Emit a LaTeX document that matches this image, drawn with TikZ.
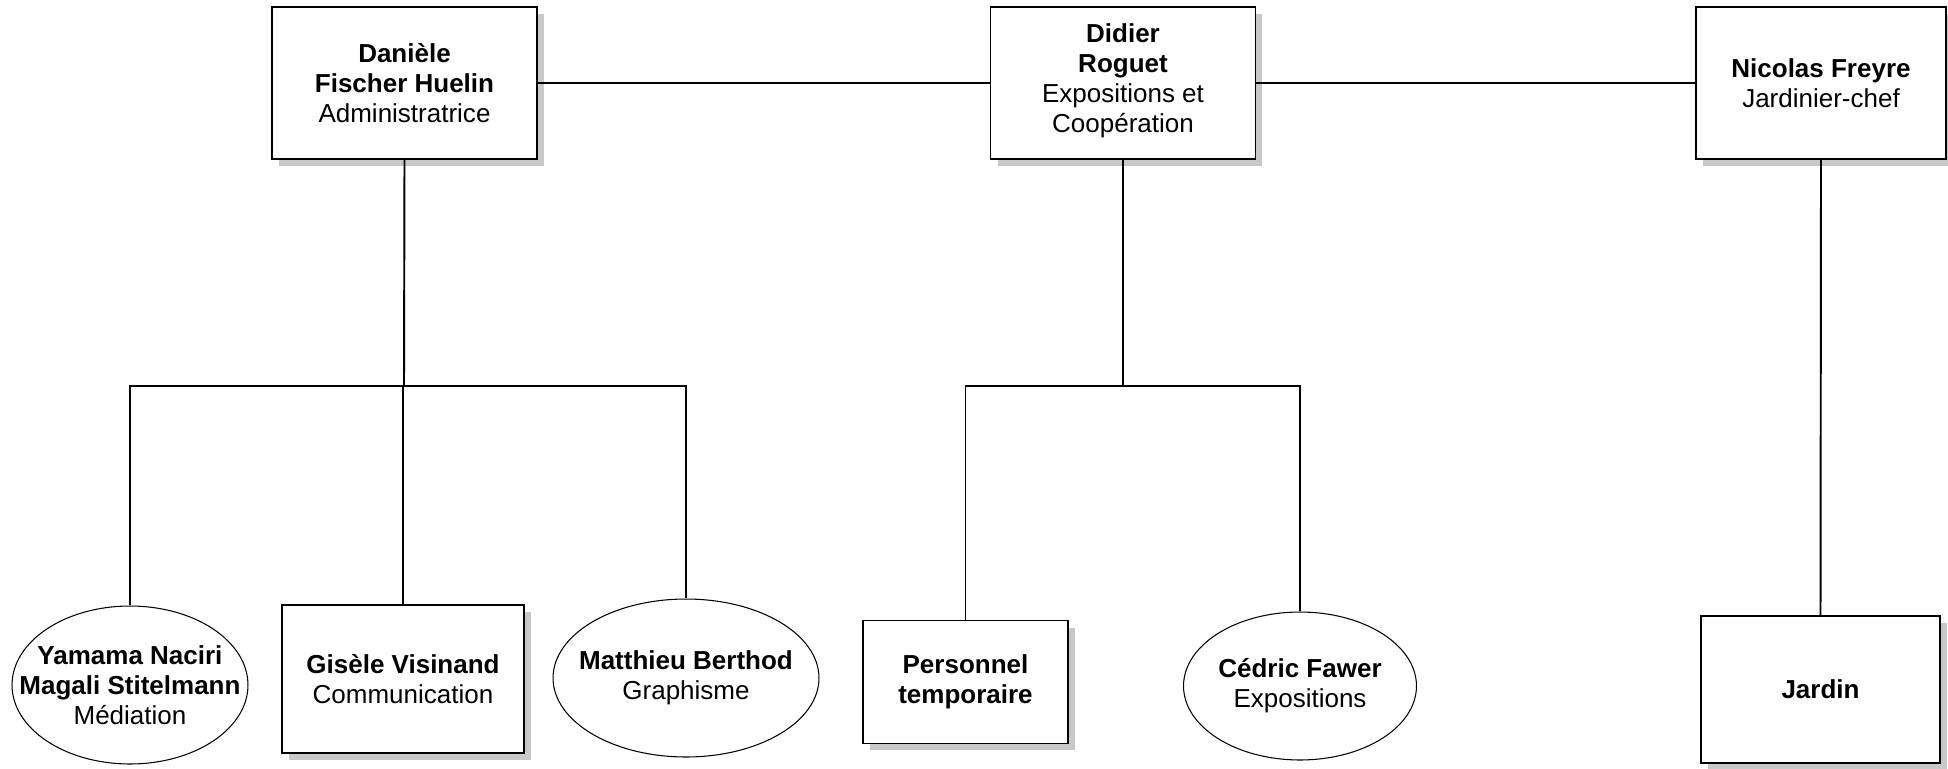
\documentclass[tikz,border=0pt]{standalone}
\usepackage{fontspec}
\setmainfont{Liberation Sans}
\usepackage{tikz}
\usetikzlibrary{shapes,positioning,shadows}
\definecolor{orgshadow}{RGB}{200,200,200}
\tikzstyle{link} = [line width=1.1pt, color=black]
\tikzstyle{person} = [rectangle, draw=black, fill=white, line width=0.9pt, align=center, inner sep=2pt,
  font=\fontsize{14.8}{17.1}\selectfont,
  drop shadow={shadow xshift=0.14cm, shadow yshift=-0.14cm, fill=orgshadow, opacity=1}]
\tikzstyle{team} = [ellipse, draw=black, fill=white, line width=0.6pt, align=center, inner sep=-1cm,
  font=\fontsize{14.8}{17.1}\selectfont]

\begin{document}
\begin{tikzpicture}[x=0.02cm, y=-0.02cm]
\useasboundingbox (0,0) rectangle (1948,768);
% Heads
\node[person, minimum width=5.3cm, minimum height=3.04cm] (dan) at (404.5,83) {\textbf{Danièle}\\\textbf{Fischer Huelin}\\Administratrice};
\node[person, minimum width=5.3cm, minimum height=3.04cm, text depth=0.2cm] (did) at (1123,83) {\textbf{Didier}\\\textbf{Roguet}\\Expositions et\\Coopération};
\node[person, minimum width=5.0cm, minimum height=3.04cm] (nic) at (1821,83) {\textbf{Nicolas Freyre}\\Jardinier-chef};

% Staff
\node[team, minimum width=4.72cm, minimum height=3.16cm] (yam) at (130,685) {\textbf{Yamama Naciri}\\\textbf{Magali Stitelmann}\\Médiation};
\node[person, minimum width=4.84cm, minimum height=2.96cm] (gis) at (403,679) {\textbf{Gisèle Visinand}\\Communication};
\node[team, minimum width=5.32cm, minimum height=3.16cm] (mat) at (686,678) {\textbf{Matthieu Berthod}\\Graphisme};
\node[person, minimum width=4.1cm, minimum height=2.46cm] (per) at (965.5,682) {\textbf{Personnel}\\\textbf{temporaire}};
\node[team, minimum width=4.66cm, minimum height=2.96cm] (ced) at (1300,686) {\textbf{Cédric Fawer}\\Expositions};
\node[person, minimum width=4.78cm, minimum height=2.94cm] (jar) at (1820.5,689.5) {\textbf{Jardin}};

% Branch points
\coordinate (danbar) at (404,386);
\coordinate (didbar) at (1123,386);

% Links
\draw[link] (dan.east) -- (did.west);
\draw[link] (did.east) -- (nic.west);
\draw[link] (dan.south) -- (danbar);
\draw[link] (yam.north) -- (yam.north |- danbar) -- (mat.north |- danbar) -- (mat.north);
\draw[link] (gis.north) -- (gis.north |- danbar);
\draw[link] (did.south) -- (didbar);
\draw[link] (per.north) -- (per.north |- didbar) -- (ced.north |- didbar) -- (ced.north);
\draw[link] (nic.south) -- (jar.north);
\end{tikzpicture}
\end{document}
